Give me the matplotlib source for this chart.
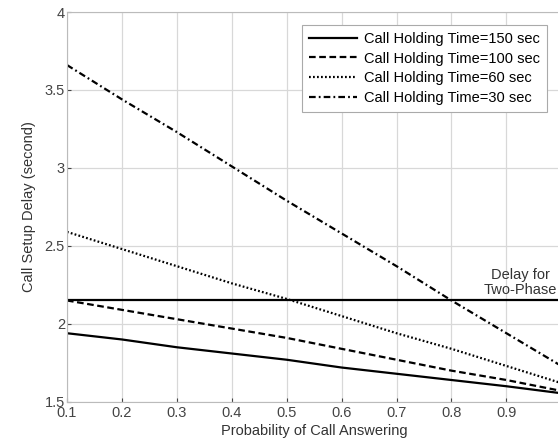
import numpy as np
import matplotlib
matplotlib.use("Agg")
import matplotlib.pyplot as plt

plt.rcParams['font.family'] = ['Liberation Sans', 'DejaVu Sans']

p_answer = [0.1, 0.2, 0.3, 0.4, 0.5, 0.6, 0.7, 0.8, 0.9, 1.0]
delay_150 = [1.94, 1.90, 1.85, 1.81, 1.77, 1.72, 1.68, 1.64, 1.60, 1.555]
delay_100 = [2.15, 2.09, 2.03, 1.97, 1.91, 1.84, 1.77, 1.70, 1.64, 1.57]
delay_60 = [2.59, 2.48, 2.37, 2.26, 2.16, 2.05, 1.94, 1.84, 1.73, 1.62]
delay_30 = [3.66, 3.44, 3.23, 3.01, 2.79, 2.58, 2.37, 2.15, 1.94, 1.73]
two_phase = 2.15

fig = plt.figure(figsize=(5.58, 4.45), dpi=100)
ax = fig.add_axes([0.12, 0.097, 0.886, 0.876])

ax.plot(p_answer, delay_150, color='k', ls='-', lw=1.6, label='Call Holding Time=150 sec')
ax.plot(p_answer, delay_100, color='k', ls=(0, (3, 1.6)), lw=1.6, label='Call Holding Time=100 sec')
ax.plot(p_answer, delay_60, color='k', ls=(0, (0.8, 1.0)), lw=1.6, label='Call Holding Time=60 sec')
ax.plot(p_answer, delay_30, color='k', ls=(0, (3, 1.4, 0.8, 1.4)), lw=1.6, label='Call Holding Time=30 sec')
ax.axhline(two_phase, color='k', lw=1.6)
ax.text(0.925, 2.265, 'Delay for\nTwo-Phase', ha='center', va='center',
        fontsize=10.5, color='#333333', linespacing=1.15)

ax.set_xlim(0.1, 1.0)
ax.set_ylim(1.5, 4.0)
ax.set_xticks(np.arange(0.1, 1.01, 0.1))
ax.set_xticklabels(['0.1', '0.2', '0.3', '0.4', '0.5', '0.6', '0.7', '0.8', '0.9', '1'])
ax.set_yticks([1.5, 2, 2.5, 3, 3.5, 4])
ax.set_yticklabels(['1.5', '2', '2.5', '3', '3.5', '4'])
ax.tick_params(direction='in', labelsize=10.5, colors='#444444', length=3, pad=1.5)
ax.tick_params(axis='x', pad=3)
ax.grid(True, color='#d8d8d8', lw=0.9)
for s in ax.spines.values():
    s.set_color('#bbbbbb')

ax.set_xlabel('Probability of Call Answering', fontsize=10.5, color='#333333', labelpad=3)
ax.set_ylabel('Call Setup Delay (second)', fontsize=10.5, color='#333333', labelpad=6)

leg = ax.legend(loc='upper right', bbox_to_anchor=(0.985, 0.985), fontsize=10.5,
                handlelength=3.3, handletextpad=0.5, fancybox=False, framealpha=1,
                borderpad=0.45, labelspacing=0.4)
leg.get_frame().set_edgecolor('#aaaaaa')
leg.get_frame().set_linewidth(0.8)

fig.savefig('out.png', dpi=100)
